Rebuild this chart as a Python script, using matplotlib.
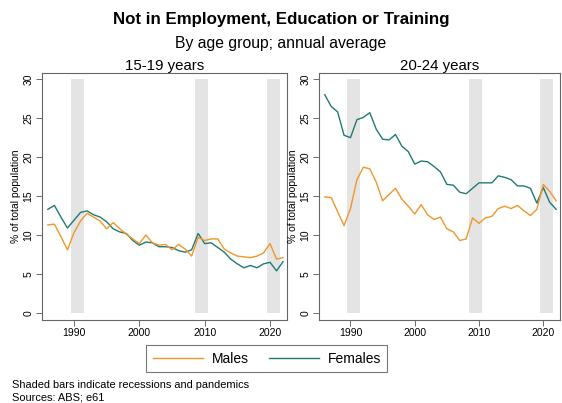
import matplotlib
matplotlib.use("Agg")
import matplotlib.pyplot as plt
from matplotlib.lines import Line2D

plt.rcParams['font.family'] = ['Liberation Sans', 'DejaVu Sans']

years = list(range(1986, 2023))

males_15_19 = [11.3, 11.4, 9.8, 8.1, 10.3, 11.8, 12.8, 12.3, 11.8, 10.8, 11.6, 10.8, 10.1, 9.5,
               8.9, 10.0, 9.0, 8.7, 8.8, 8.1, 8.8, 8.2, 7.3, 9.7, 9.3, 9.5, 9.5, 8.2, 7.7, 7.3,
               7.2, 7.1, 7.3, 7.7, 8.9, 6.9, 7.1]
females_15_19 = [13.3, 13.8, 12.3, 10.9, 11.9, 12.9, 13.1, 12.6, 12.3, 11.7, 10.8, 10.4, 10.2, 9.3,
                 8.7, 9.1, 9.0, 8.5, 8.5, 8.4, 8.0, 7.8, 8.1, 10.2, 8.9, 9.0, 8.4, 7.8, 6.9, 6.3,
                 5.8, 6.1, 5.8, 6.3, 6.5, 5.4, 6.6]
males_20_24 = [14.9, 14.8, 13.0, 11.2, 13.4, 17.1, 18.7, 18.5, 16.8, 14.4, 15.2, 16.0, 14.6, 13.7,
               12.7, 13.9, 12.6, 12.0, 12.3, 10.8, 10.4, 9.3, 9.5, 12.2, 11.5, 12.2, 12.4, 13.4,
               13.7, 13.4, 13.8, 13.1, 12.5, 13.3, 16.5, 15.6, 14.4]
females_20_24 = [28.0, 26.5, 25.8, 22.8, 22.5, 24.8, 25.1, 25.7, 23.6, 22.3, 22.2, 22.9, 21.4, 20.7,
                 19.1, 19.5, 19.4, 18.8, 18.1, 16.5, 16.4, 15.5, 15.3, 16.0, 16.7, 16.7, 16.7,
                 17.6, 17.4, 17.1, 16.3, 16.3, 16.0, 14.1, 16.1, 14.2, 13.3]

recessions = [(1989.5, 1991.5), (2008.5, 2010.5), (2019.5, 2021.5)]
panel_titles = ["15-19 years", "20-24 years"]
x_ticks = [1990, 2000, 2010, 2020]
y_ticks = [0, 5, 10, 15, 20, 25, 30]

orange = "#F0962A"
teal = "#1F7A73"

fig = plt.figure(figsize=(5.62, 4.03), dpi=100)
axes = [fig.add_axes([0.0747, 0.206, 0.436, 0.613]),
        fig.add_axes([0.5676, 0.206, 0.4288, 0.613])]
data = [(males_15_19, females_15_19), (males_20_24, females_20_24)]

for ax, (m, f), t in zip(axes, data, panel_titles):
    for a, b in recessions:
        ax.fill_between([a, b], 0, 30, color="#E4E4E4", lw=0, zorder=0)
    ax.plot(years, m, color=orange, lw=1.0, zorder=3)
    ax.plot(years, f, color=teal, lw=1.0, zorder=2)
    ax.set_xlim(1985.1, 2022.6)
    ax.set_ylim(-0.9, 30.8)
    ax.set_xticks(x_ticks)
    ax.set_yticks(y_ticks)
    ax.tick_params(axis='both', labelsize=7.5, length=4, width=0.6, color="#555555", pad=2)
    for lab in ax.get_yticklabels():
        lab.set_rotation(90)
        lab.set_va('center')
    ax.set_ylabel("% of total population", fontsize=7.5, labelpad=2)
    ax.set_title(t, fontsize=10.8, pad=1.5)
    for s in ax.spines.values():
        s.set_color("#666666")
        s.set_linewidth(0.8)

fig.text(0.5, 0.951, "Not in Employment, Education or Training", ha='center', va='center',
         fontsize=12.2, fontweight='bold')
fig.text(0.5, 0.891, "By age group; annual average", ha='center', va='center', fontsize=11.3)

handles = [Line2D([], [], color=orange, lw=1.0), Line2D([], [], color=teal, lw=1.0)]
leg = fig.legend(handles, ["Males", "Females"], loc='center', bbox_to_anchor=(0.475, 0.110),
                 ncol=2, fontsize=10, frameon=True, fancybox=False, edgecolor="#555555",
                 handlelength=3.6, handletextpad=0.65, columnspacing=1.45, borderpad=0.45)
leg.get_frame().set_linewidth(0.8)

fig.text(0.021, 0.045, "Shaded bars indicate recessions and pandemics", fontsize=7.9, va='center')
fig.text(0.021, 0.013, "Sources: ABS; e61", fontsize=7.9, va='center')

fig.savefig("out.png", dpi=100)
